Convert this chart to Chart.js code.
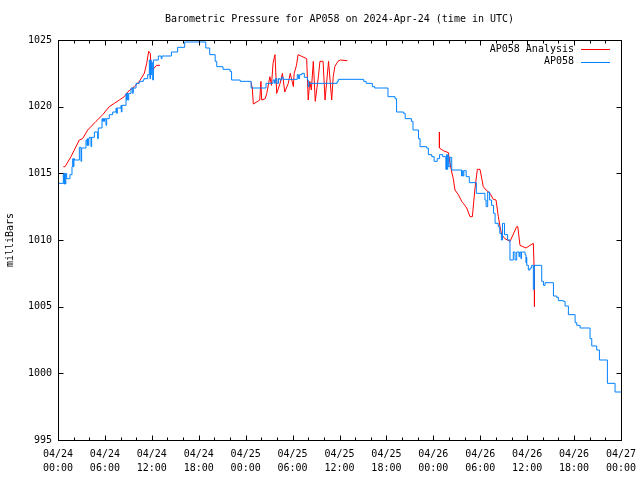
<!DOCTYPE html>
<html>
<head>
<meta charset="utf-8">
<script src="https://cdn.jsdelivr.net/npm/chart.js@4/dist/chart.umd.min.js"></script>
<style>
    html, body { margin: 0; padding: 0; background: #fff; }
</style>
</head>
<body>
<canvas id="pressureChart" width="640" height="480"></canvas>
<script>
// Chart text
const chartTitle = 'Barometric Pressure for AP058 on 2024-Apr-24 (time in UTC)';
const yAxisLabel = 'milliBars';
const seriesNames = ['AP058 Analysis', 'AP058'];
const seriesColors = ['#ff0000', '#0080ff'];

// x axis: hours since 04/24 00:00 UTC
const tickHours = [0, 6, 12, 18, 24, 30, 36, 42, 48, 54, 60, 66, 72];
const tickDates = ['04/24', '04/24', '04/24', '04/24', '04/25', '04/25', '04/25', '04/25', '04/26', '04/26', '04/26', '04/26', '04/27'];
const tickTimes = ['00:00', '06:00', '12:00', '18:00', '00:00', '06:00', '12:00', '18:00', '00:00', '06:00', '12:00', '18:00', '00:00'];
const yTicks = [995, 1000, 1005, 1010, 1015, 1020, 1025];

// Station readings [hour, mb]
const ap058Readings = [
    [0.0, 1014.25], [0.68, 1015.0], [0.76, 1014.2], [0.84, 1015.0], [0.92, 1014.2], [1.0, 1015.0], [1.11, 1014.6],
    [1.53, 1014.9], [1.79, 1015.5], [1.88, 1016.1], [1.96, 1015.5], [2.04, 1016.1], [2.12, 1016.0],
    [2.73, 1016.95], [2.94, 1015.9], [3.02, 1016.9],
    [3.58, 1017.5], [3.71, 1017.1], [3.78, 1017.6], [3.86, 1017.1], [3.94, 1017.6], [4.01, 1017.7],
    [4.22, 1017.0], [4.3, 1017.7], [4.65, 1018.1], [5.07, 1017.6], [5.15, 1018.4],
    [5.63, 1019.1], [5.71, 1018.9], [5.79, 1019.1], [5.87, 1018.9], [5.95, 1019.1],
    [6.14, 1018.6], [6.22, 1019.1], [6.56, 1019.4], [6.99, 1019.6], [7.42, 1019.9], [7.5, 1019.5], [7.58, 1019.9],
    [8.06, 1020.1], [8.1, 1019.6], [8.18, 1020.1], [8.7, 1021.0], [8.78, 1020.5], [8.86, 1021.0], [8.94, 1020.5], [9.04, 1021.0],
    [9.34, 1021.4], [9.55, 1021.0], [9.62, 1021.4], [9.98, 1021.75], [10.4, 1021.9], [10.91, 1022.0], [11.0, 1022.1], [11.47, 1022.4],
    [11.68, 1023.5], [11.76, 1022.1], [11.84, 1023.5], [11.92, 1022.4], [12.0, 1023.3], [12.11, 1022.0], [12.2, 1023.5],
    [12.83, 1023.8], [13.2, 1023.6], [13.3, 1023.8], [14.5, 1024.1], [15.3, 1024.45], [16.2, 1024.85], [18.9, 1024.4],
    [19.4, 1023.9], [20.1, 1023.4], [20.3, 1023.0], [21.1, 1022.8], [22.0, 1022.65], [22.2, 1022.0], [23.3, 1021.9],
    [24.7, 1021.4], [26.6, 1021.75], [27.5, 1022.0], [27.7, 1021.75], [27.8, 1022.1], [28.0, 1021.75], [28.2, 1022.1],
    [28.4, 1022.0], [28.6, 1022.2], [28.8, 1022.05], [30.6, 1022.4], [30.75, 1022.1], [30.9, 1022.4], [31.2, 1022.5],
    [31.5, 1022.2], [31.9, 1022.0], [32.0, 1021.5], [32.1, 1021.75], [35.7, 1021.9], [35.85, 1022.05],
    [39.1, 1021.9], [39.4, 1021.75], [40.2, 1021.5], [40.5, 1021.4], [42.2, 1020.75], [43.1, 1020.6], [43.3, 1019.6],
    [44.2, 1019.5], [44.4, 1019.1], [45.2, 1018.9], [45.4, 1018.25], [46.1, 1017.6], [46.3, 1017.0], [47.15, 1016.9],
    [47.36, 1016.4], [47.8, 1016.25], [48.1, 1015.9], [48.5, 1016.1], [48.8, 1016.4], [49.2, 1016.25],
    [49.6, 1015.3], [49.68, 1016.4], [49.76, 1015.3], [49.84, 1016.4], [49.92, 1015.5], [50.13, 1016.2], [50.35, 1015.25],
    [51.6, 1014.8], [51.7, 1015.2], [51.8, 1014.8], [51.9, 1015.2], [52.2, 1014.75], [52.6, 1014.3], [53.5, 1013.5],
    [54.6, 1013.0], [54.75, 1012.5], [54.95, 1013.6], [55.2, 1013.0], [55.45, 1012.6], [55.7, 1012.0], [55.9, 1011.25],
    [56.3, 1011.0], [56.5, 1010.5], [56.7, 1010.0], [56.85, 1011.25], [57.1, 1010.4], [57.5, 1010.0],
    [57.8, 1008.5], [58.23, 1009.1], [58.45, 1008.5], [58.66, 1009.1], [58.96, 1008.75], [59.05, 1009.1], [59.2, 1008.6],
    [59.28, 1009.1], [59.73, 1008.9], [59.85, 1008.3], [59.9, 1008.7], [59.95, 1008.1], [60.15, 1007.75], [60.37, 1007.9],
    [60.58, 1008.1], [60.79, 1006.3], [60.92, 1008.1], [61.86, 1006.9], [62.08, 1006.6], [62.29, 1006.8], [63.36, 1005.8],
    [63.78, 1005.7], [63.99, 1005.45], [64.63, 1005.4], [64.85, 1005.05], [65.27, 1004.4], [66.13, 1003.8], [66.34, 1003.6],
    [66.77, 1003.4], [68.04, 1002.6], [68.26, 1002.05], [68.9, 1001.75], [69.24, 1001.0], [70.26, 999.25], [71.24, 998.6], [72, 998.6]
];

// Analysis runs [hour, mb], null breaks the line between runs
const analysisReadings = [
    [0.68, 1015.5], [0.9, 1015.5], [1.66, 1016.25], [2.72, 1017.5], [3.15, 1017.6], [3.8, 1018.25], [4.86, 1018.9],
    [5.72, 1019.4], [6.56, 1020.0], [7.2, 1020.25], [7.84, 1020.5], [8.48, 1020.75], [8.91, 1021.1], [9.76, 1021.5],
    [10.4, 1021.9], [11.04, 1022.5], [11.34, 1023.25], [11.6, 1024.15], [11.8, 1024.0], [11.93, 1022.8], [12.16, 1022.8],
    [12.6, 1023.1], [13.04, 1023.1],
    [18.5, null],
    [24.68, 1021.8], [24.85, 1021.4], [24.98, 1020.2], [25.8, 1020.5], [25.95, 1021.9], [26.05, 1020.5], [26.5, 1020.6],
    [26.7, 1021.0], [27.1, 1022.25], [27.3, 1021.6], [27.5, 1023.25], [27.75, 1023.9], [27.97, 1021.0], [28.4, 1021.75],
    [28.7, 1022.5], [29.0, 1021.1], [29.45, 1021.75], [29.7, 1022.5], [29.9, 1022.0], [30.1, 1021.5], [30.2, 1022.5],
    [30.5, 1023.1], [30.7, 1023.9], [31.8, 1023.6], [32.0, 1020.5], [32.2, 1021.9], [32.4, 1021.25], [32.65, 1023.4],
    [32.9, 1020.4], [33.3, 1022.25], [33.5, 1023.4], [33.9, 1023.4], [34.15, 1020.5], [34.6, 1023.4], [35.0, 1020.5],
    [35.2, 1022.25], [35.4, 1023.0], [35.8, 1023.4], [36.1, 1023.5], [37.0, 1023.45],
    [42.0, null],
    [48.77, 1018.1], [48.78, 1016.9], [49.28, 1016.7], [49.92, 1016.55], [50.13, 1015.75], [50.35, 1015.1], [50.55, 1014.6],
    [50.77, 1013.75], [51.2, 1013.4], [51.63, 1012.9], [51.83, 1012.75], [52.27, 1012.4], [52.69, 1011.75], [52.99, 1011.75],
    [53.33, 1013.9], [53.63, 1015.3], [53.97, 1015.3], [54.39, 1014.0], [54.74, 1013.75], [55.25, 1013.5], [55.67, 1013.05],
    [56.02, 1013.0], [56.31, 1011.75], [56.53, 1011.0], [56.74, 1010.4], [57.16, 1010.1], [57.81, 1009.9], [58.66, 1011.0],
    [58.8, 1011.0], [59.08, 1009.6], [59.85, 1009.4], [60.36, 1009.6], [60.79, 1009.75], [60.92, 1007.3], [60.93, 1005.0]
];

const monoFont = '"DejaVu Sans Mono", "Liberation Mono", monospace';

// gnuplot-style frame, inward ticks, title, y label and key
const gnuplotDecor = {
    id: 'gnuplotDecor',
    afterDatasetsDraw(chart) {
        const ctx = chart.ctx;
        const area = chart.chartArea;
        const xScale = chart.scales.x;
        const yScale = chart.scales.y;
        const left = Math.round(area.left), right = Math.round(area.right);
        const top = Math.round(area.top), bottom = Math.round(area.bottom);
        ctx.save();
        ctx.strokeStyle = '#000';
        ctx.lineWidth = 1;

        // frame
        ctx.strokeRect(left + 0.5, top + 0.5, right - left, bottom - top);

        ctx.beginPath();
        // x ticks every 2 hours, longer every 6
        for (let h = 0; h <= 72; h += 2) {
            const px = Math.round(xScale.getPixelForValue(h)) + 0.5;
            const len = h % 6 === 0 ? 5 : 3;
            ctx.moveTo(px, bottom + 0.5);
            ctx.lineTo(px, bottom + 0.5 - len);
            ctx.moveTo(px, top + 0.5);
            ctx.lineTo(px, top + 0.5 + len);
        }
        // y ticks
        yTicks.forEach(v => {
            const py = Math.round(yScale.getPixelForValue(v)) + 0.5;
            ctx.moveTo(left + 0.5, py);
            ctx.lineTo(left + 0.5 + 5, py);
            ctx.moveTo(right + 0.5, py);
            ctx.lineTo(right + 0.5 - 5, py);
        });
        ctx.stroke();

        ctx.fillStyle = '#000';
        ctx.font = '10px ' + monoFont;
        ctx.textBaseline = 'middle';

        // title
        ctx.textAlign = 'center';
        ctx.fillText(chartTitle, (left + right) / 2, 19);

        // y axis label
        ctx.save();
        ctx.translate(10, (top + bottom) / 2);
        ctx.rotate(-Math.PI / 2);
        ctx.fillText(yAxisLabel, 0, 0);
        ctx.restore();

        // key
        ctx.textAlign = 'right';
        seriesNames.forEach((name, i) => {
            const y = 49 + i * 12.5;
            ctx.fillStyle = '#000';
            ctx.fillText(name, 574, y);
            ctx.strokeStyle = seriesColors[i];
            ctx.beginPath();
            ctx.moveTo(581, Math.round(y) + 0.5);
            ctx.lineTo(610, Math.round(y) + 0.5);
            ctx.stroke();
        });
        ctx.restore();
    }
};

const toPoints = rows => rows.map(r => ({ x: r[0], y: r[1] }));

const ctx = document.getElementById('pressureChart').getContext('2d');
const pressureChart = new Chart(ctx, {
    type: 'line',
    data: {
        datasets: [
            {
                label: seriesNames[1],
                data: toPoints(ap058Readings),
                borderColor: seriesColors[1],
                borderWidth: 1,
                pointRadius: 0,
                stepped: true,
                order: 0
            },
            {
                label: seriesNames[0],
                data: toPoints(analysisReadings),
                borderColor: seriesColors[0],
                borderWidth: 1,
                pointRadius: 0,
                spanGaps: false,
                order: 1
            }
        ]
    },
    options: {
        responsive: false,
        animation: false,
        devicePixelRatio: 1,
        layout: { padding: { top: 40, right: 19, left: 0, bottom: 0 } },
        plugins: {
            legend: { display: false },
            title: { display: false },
            tooltip: { enabled: false }
        },
        scales: {
            x: {
                type: 'linear',
                min: 0,
                max: 72,
                // tick marks are drawn by the plugin; tickLength only offsets the labels
                grid: { display: false, tickLength: 7 },
                border: { display: false },
                afterFit: scale => { scale.height = 40; },
                ticks: {
                    stepSize: 6,
                    autoSkip: false,
                    maxRotation: 0,
                    padding: 0,
                    color: '#000',
                    font: { family: monoFont, size: 10, lineHeight: 1.4 },
                    callback: function(value) {
                        const i = tickHours.indexOf(value);
                        return i < 0 ? '' : [tickDates[i], tickTimes[i]];
                    }
                }
            },
            y: {
                min: 995,
                max: 1025,
                grid: { display: false, drawTicks: false },
                border: { display: false },
                afterFit: scale => { scale.width = 58; },
                ticks: {
                    stepSize: 5,
                    padding: 6,
                    color: '#000',
                    font: { family: monoFont, size: 10 },
                    callback: value => String(value)
                }
            }
        }
    },
    plugins: [gnuplotDecor]
});
</script>
</body>
</html>
